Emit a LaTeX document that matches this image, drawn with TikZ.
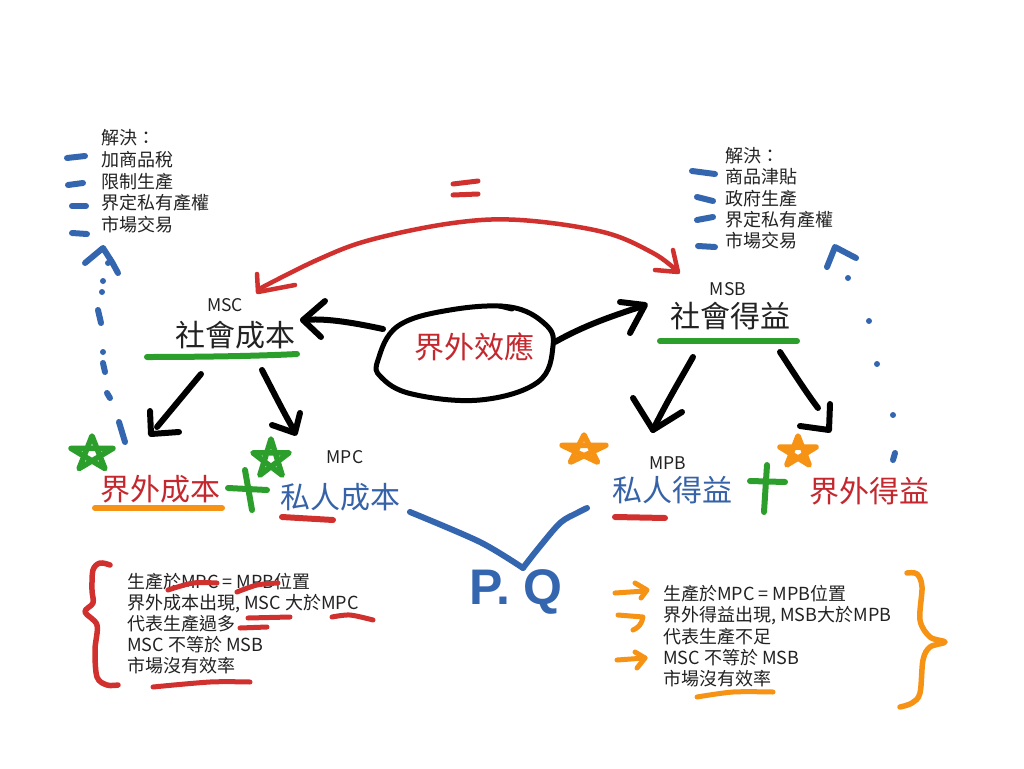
\documentclass[tikz,border=0pt]{standalone}
\usepackage{fontspec}
\setmainfont{Noto Sans CJK TC}
\newfontfamily\pqfont{Liberation Sans}
\definecolor{pred}{RGB}{208,48,46}
\definecolor{pblue}{RGB}{52,102,176}
\definecolor{pgreen}{RGB}{44,158,44}
\definecolor{porange}{RGB}{246,146,20}
\definecolor{tred}{RGB}{196,40,46}
\definecolor{tblue}{RGB}{54,98,168}
\definecolor{tdark}{RGB}{34,34,34}
\newcommand\hstar[5]{\draw[#1,shift={(#2,#3)},xscale=#4,yscale=#5] (-90:1)--(54:1)--(198:1)--(-18:1)--(126:1)--cycle;}
\begin{document}
\begin{tikzpicture}[x=1pt,y=-1pt,
  pen/.style={line width=#1, line cap=round, line join=round}, pen/.default=5pt,
  head/.style={font=\fontsize{30}{32}\selectfont, inner sep=0pt},
  lab/.style={font=\fontsize{17.5}{19}\selectfont, text=tdark, inner sep=0pt},
  item/.style={font=\fontsize{18}{20}\selectfont, text=tdark, inner sep=0pt, anchor=base west}]
\useasboundingbox (0,0) rectangle (1024,768);
\fill[white] (0,0) rectangle (1024,768);

% ---------- main text nodes ----------
\node[lab] (mscl) at (225,305) {MSC};
\node[head,text=tdark] (sc) at (235,335) {社會成本};
\node[lab] (msbl) at (728,289) {MSB};
\node[head,text=tdark] (sb) at (730,316) {社會得益};
\node[head,text=tred] (eff) at (474,347) {界外效應};
\node[head,text=tred] (ec) at (160,489) {界外成本};
\node[lab] (mpcl) at (345,457) {MPC};
\node[head,text=tblue] (pc) at (340,497) {私人成本};
\node[lab] (mpbl) at (668,463) {MPB};
\node[head,text=tblue] (pb) at (672,490) {私人得益};
\node[head,text=tred] (eb) at (869,491) {界外得益};
\node[font=\pqfont\bfseries\fontsize{50}{54}\selectfont, text=pblue, inner sep=0pt] (pq) at (516,592) {P. Q};

% ---------- top lists ----------
\node[item] (tl0) at (101,144) {解決：};
\node[item] (tl1) at (101,166) {加商品稅};
\node[item] (tl2) at (101,188) {限制生產};
\node[item] (tl3) at (101,209) {界定私有產權};
\node[item] (tl4) at (101,231) {市場交易};
\node[item] (tr0) at (725,162) {解決：};
\node[item] (tr1) at (725,183) {商品津貼};
\node[item] (tr2) at (725,205) {政府生產};
\node[item] (tr3) at (725,226) {界定私有產權};
\node[item] (tr4) at (725,247) {市場交易};

% ---------- bottom lists ----------
\node[item] (bl1) at (127,588) {生產於MPC = MPB位置};
\node[item] (bl2) at (127,609) {界外成本出現, MSC 大於MPC};
\node[item] (bl3) at (127,630) {代表生產過多};
\node[item] (bl4) at (127,651) {MSC 不等於 MSB};
\node[item] (bl5) at (127,672) {市場沒有效率};
\node[item] (br1) at (663,600) {生產於MPC = MPB位置};
\node[item] (br2) at (663,621) {界外得益出現, MSB大於MPB};
\node[item] (br3) at (663,643) {代表生產不足};
\node[item] (br4) at (663,664) {MSC 不等於 MSB};
\node[item] (br5) at (663,685) {市場沒有效率};

% ---------- ellipse round 界外效應 ----------
\draw[pen=5pt] plot[smooth cycle, tension=0.65] coordinates {(378,360) (398,326) (450,310) (510,307) (545,324) (553,346) (538,382) (480,400) (412,394) (381,377)};
\draw[pen=5pt] (500,306) -- (512,309);

% ---------- black arrows ----------
\coordinate (a1) at (303,320);
\draw[pen=6pt] (383,329) .. controls (350,322) and (325,318) .. (a1);
\draw[pen=6pt] (325,301) -- (a1) -- (321,337);
\coordinate (a2) at (643,306);
\draw[pen=6pt] (555,342) .. controls (585,325) and (615,315) .. (a2);
\draw[pen=6pt] (620,302) -- (645,305) -- (630,333);
% from 社會成本
\draw[pen=6pt] (201,374) -- (157,427);
\draw[pen=6pt] (150,411) -- (151,434) -- (179,432);
\draw[pen=6pt] (262,370) .. controls (275,395) and (285,415) .. (295,432);
\draw[pen=6pt] (272,425) -- (295,433) -- (300,413);
% from 社會得益
\draw[pen=6pt] (693,357) .. controls (680,380) and (665,405) .. (653,430);
\draw[pen=6pt] (633,398) -- (653,430) -- (682,412);
\draw[pen=6pt] (780,352) .. controls (795,375) and (808,395) .. (818,408);
\draw[pen=6pt] (800,426) -- (829,430) -- (830,404);

% ---------- red double arrow and = ----------
\draw[pen=4.5pt,pred] plot[smooth, tension=0.6] coordinates {(259,289) (317,260) (370,240) (453,223) (520,220) (603,232) (653,253) (677,271)};
\draw[pen=4.5pt,pred] (257,274) -- (258,292) -- (295,285);
\draw[pen=4.5pt,pred] (673,250) -- (678,272) -- (655,270);
\draw[pen=5pt,pred] (453,184) -- (478,181);
\draw[pen=5pt,pred] (453,195) -- (478,194);

% ---------- green underlines ----------
\draw[pen=6pt,pgreen] (147,357) .. controls (200,357) and (260,356) .. (297,354);
\draw[pen=6pt,pgreen] (660,341) -- (797,341);

% ---------- underlines under level 2 ----------
\draw[pen=6pt,porange] (95,508) -- (222,508);
\draw[pen=6pt,pred] (282,517) -- (333,520);
\draw[pen=6pt,pred] (615,517) -- (665,518);

% ---------- stars and plus signs ----------
\hstar{pen=5.5pt,pgreen}{92}{454}{22}{18}
\hstar{pen=5.5pt,pgreen}{271}{459}{19}{20}
\hstar{pen=5.5pt,porange}{584}{450}{23}{15}
\hstar{pen=5.5pt,porange}{798}{452}{19}{16}
\draw[pen=6pt,pgreen] (245,470) -- (252,510);
\draw[pen=6pt,pgreen] (228,488) -- (267,490);
\draw[pen=6pt,pgreen] (767,465) -- (764,512);
\draw[pen=6pt,pgreen] (750,481) -- (785,482);

% ---------- blue V to P.Q ----------
\draw[pen=6pt,pblue] plot[smooth, tension=0.5] coordinates {(410,512) (480,542) (523,568)};
\draw[pen=6pt,pblue] plot[smooth, tension=0.5] coordinates {(523,568) (537,550) (560,523) (577,513) (587,508)};

% ---------- blue dashes beside the lists ----------
\draw[pen=6pt,pblue] (67,158) -- (85,156);
\draw[pen=6pt,pblue] (68,185) -- (83,183);
\draw[pen=6pt,pblue] (72,206) -- (86,206);
\draw[pen=6pt,pblue] (72,233) -- (87,234);
\draw[pen=6pt,pblue] (692,171) -- (715,174);
\draw[pen=6pt,pblue] (697,197) -- (713,201);
\draw[pen=6pt,pblue] (697,220) -- (713,217);
\draw[pen=6pt,pblue] (698,246) -- (715,247);

% ---------- blue dotted arrows ----------
\draw[pen=6pt,pblue] (85,263) -- (103,248) -- (112,262) -- (118,273);
\fill[pblue] (108,263) circle (3);
\fill[pblue] (103,281) circle (3);
\fill[pblue] (102,292) circle (3);
\draw[pen=6pt,pblue] (98,310) -- (101,323);
\fill[pblue] (103,352) circle (3);
\draw[pen=6pt,pblue] (103,363) -- (105,372);
\draw[pen=6pt,pblue] (107,393) -- (110,398);
\draw[pen=6pt,pblue] (119,422) -- (125,442);
\draw[pen=6pt,pblue] (827,267) -- (835,247) -- (856,258);
\fill[pblue] (848,278) circle (3);
\fill[pblue] (869,321) circle (3);
\fill[pblue] (877,364) circle (3);
\fill[pblue] (893,415) circle (3);
\draw[pen=6pt,pblue] (895,453) -- (893,460);

% ---------- red brace and marks, left list ----------
\draw[pen=5.5pt,pred] plot[smooth, tension=0.55] coordinates {(110,565) (100,563) (93,570) (92,590) (93,603) (85,612) (97,625) (95,650) (97,677) (107,685) (118,685)};
\draw[pen=5pt,pred] plot[smooth] coordinates {(168,590) (193,583) (217,583)};
\draw[pen=5pt,pred] plot[smooth] coordinates {(237,592) (257,585) (278,583)};
\draw[pen=5pt,pred] (248,618) -- (290,617);
\draw[pen=5pt,pred] plot[smooth] coordinates {(332,617) (350,615) (373,620)};
\draw[pen=5pt,pred] (240,628) -- (267,627);
\draw[pen=5pt,pred] plot[smooth] coordinates {(153,687) (210,682) (250,682)};

% ---------- orange brace and marks, right list ----------
\draw[pen=5.5pt,porange] plot[smooth, tension=0.55] coordinates {(907,573) (917,574) (922,587) (920,620) (930,637) (945,642) (930,647) (923,660) (920,693) (912,703) (900,707)};
\draw[pen=5pt,porange] (615,593) -- (645,591);
\draw[pen=5pt,porange] (635,583) -- (647,590) -- (641,598);
\draw[pen=5pt,porange] (618,615) -- (643,617) .. controls (642,624) and (638,628) .. (633,630);
\draw[pen=5pt,porange] (617,660) -- (645,658);
\draw[pen=5pt,porange] (635,652) -- (645,658) -- (637,668);
\draw[pen=5pt,porange] plot[smooth] coordinates {(697,697) (733,692) (773,692)};
\end{tikzpicture}
\end{document}
